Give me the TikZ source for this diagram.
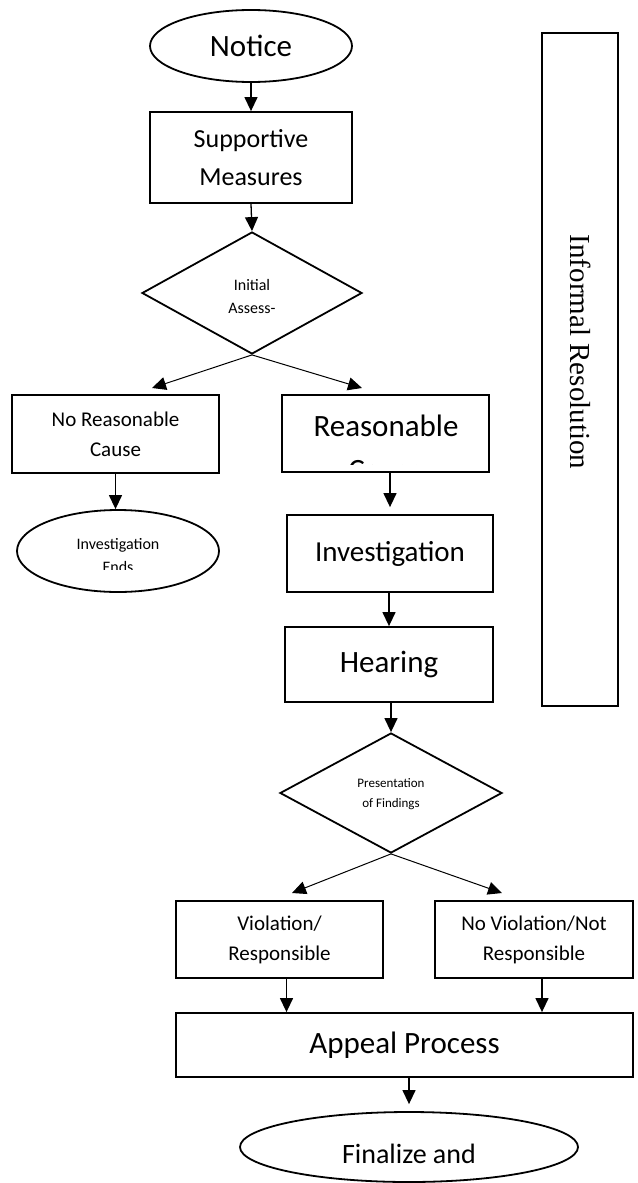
\documentclass[tikz,border=0pt]{standalone}
\usepackage{fontspec}
\setmainfont{Carlito}
\newfontfamily\timesf{Liberation Serif}
\usetikzlibrary{shapes.geometric,arrows.meta}
\tikzset{
  box/.style={draw, line width=1.8pt, inner sep=0pt, align=center, rectangle},
  ell/.style={draw, line width=1.8pt, inner sep=0pt, align=center, ellipse},
  dia/.style={draw, line width=1.8pt, inner sep=0pt, diamond},
  txt/.style={inner sep=0pt, align=center},
  arr/.style={-{Triangle[width=13pt,length=14pt]}, line width=1.3pt},
  darr/.style={-{Triangle[width=13pt,length=14pt]}, line width=1pt},
}
\begin{document}
\begin{tikzpicture}[x=1pt,y=-1pt]
\useasboundingbox (0,0) rectangle (637,1183);
% nodes
\node[ell, minimum width=202pt, minimum height=72pt, font=\fontsize{31}{40}\selectfont] (notice) at (251,46) {Notice};
\node[box, minimum width=202pt, minimum height=91pt, font=\fontsize{26}{38}\selectfont] (sm) at (251,157.5) {Supportive\\Measures};
\node[dia, minimum width=220pt, minimum height=122pt] (ia) at (252,293) {};
\node[txt, font=\fontsize{16}{23}\selectfont] (iat) at (252,296) {Initial\\Assess-};
\node[box, minimum width=207pt, minimum height=78pt, font=\fontsize{21}{30}\selectfont] (nrc) at (115.5,434) {No Reasonable\\Cause};
\node[ell, minimum width=202pt, minimum height=82pt] (ie) at (118,551) {};
\node[txt, anchor=base, font=\fontsize{16}{23}\selectfont] (iet) at (118,549) {Investigation};
\begin{scope}
\clip (17,540) rectangle (219,569);
\node[txt, anchor=base, font=\fontsize{16}{23}\selectfont] (iet2) at (118,572) {Ends};
\end{scope}
\node[box, minimum width=207pt, minimum height=77pt] (rc) at (385.5,433.5) {};
\node[txt, anchor=base, font=\fontsize{31}{44}\selectfont] (rct) at (386,436) {Reasonable};
\begin{scope}
\clip (284,440) rectangle (487,464);
\node[txt, anchor=base, font=\fontsize{31}{44}\selectfont] (rct2) at (386,480) {Cause};
\end{scope}
\node[box, minimum width=206pt, minimum height=77pt, font=\fontsize{29}{40}\selectfont] (inv) at (390,553.5) {Investigation};
\node[box, minimum width=208pt, minimum height=75pt, font=\fontsize{31}{40}\selectfont] (hear) at (389,664.5) {Hearing};
\node[dia, minimum width=222pt, minimum height=120pt] (pf) at (391,793) {};
\node[txt, font=\fontsize{13}{20}\selectfont] (pft) at (391,794) {Presentation\\of Findings};
\node[box, minimum width=207pt, minimum height=77pt, font=\fontsize{21}{30}\selectfont] (v) at (279.5,939.5) {Violation/\\Responsible};
\node[box, minimum width=198pt, minimum height=77pt, font=\fontsize{21}{30}\selectfont] (nv) at (534,939.5) {No Violation/Not\\Responsible};
\node[box, minimum width=457pt, minimum height=64pt, font=\fontsize{31}{40}\selectfont] (ap) at (404.5,1045) {Appeal Process};
\node[ell, minimum width=338pt, minimum height=70pt] (fin) at (409,1147) {};
\node[txt, anchor=base, font=\fontsize{28}{40}\selectfont] (fint) at (409,1163) {Finalize and};
\node[box, minimum width=76pt, minimum height=673pt] (ir) at (580,369.5) {};
\node[txt, rotate=-90, font=\timesf\fontsize{29}{36}\selectfont] (irt) at (581,352) {Informal Resolution};
% tip coordinates
\coordinate (t1) at (152,388);
\coordinate (t2) at (362,388);
\coordinate (t3) at (292,893);
\coordinate (t4) at (502,893);
% connectors
\draw[arr] (notice.south) -- (sm.north);
\draw[arr] (sm.south) -- (ia.north);
\draw[darr] (ia.south) -- (t1);
\draw[darr] (ia.south) -- (t2);
\draw[arr] (nrc.south) -- (nrc.south |- ie.north);
\draw[arr, shorten >=7pt] (rc.south -| inv.north) -- (inv.north);
\draw[arr] (inv.south -| hear.north) -- (hear.north);
\draw[arr] (hear.south -| pf.north) -- (pf.north);
\draw[darr] (pf.south) -- (t3);
\draw[darr] (pf.south) -- (t4);
\draw[arr] ([xshift=7pt]v.south) -- ([xshift=7pt]v.south |- ap.north);
\draw[arr] ([xshift=8pt]nv.south) -- ([xshift=8pt]nv.south |- ap.north);
\draw[arr, shorten >=7pt] (ap.south -| fin.north) -- (fin.north);
\end{tikzpicture}
\end{document}
